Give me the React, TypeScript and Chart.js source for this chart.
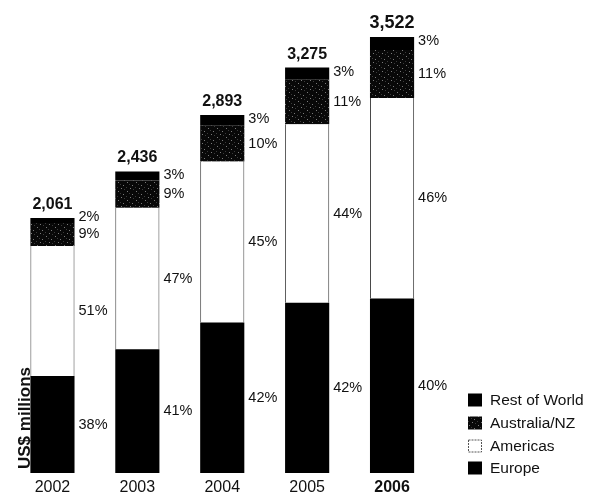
import { useEffect, useRef } from "react";
import { Chart, registerables } from "chart.js";

Chart.register(...registerables);

const years = ["2002", "2003", "2004", "2005", "2006"];
const totals = [2061, 2436, 2893, 3275, 3522];
const totalLabels = ["2,061", "2,436", "2,893", "3,275", "3,522"];
const europePct = [38, 41, 42, 42, 40];
const americasPct = [51, 47, 45, 44, 46];
const ausNzPct = [9, 9, 10, 11, 11];
const restPct = [2, 3, 3, 3, 3];
const seriesNames = ["Europe", "Americas", "Australia/NZ", "Rest of World"];

const FONT = "'Liberation Sans', Arial, Helvetica, sans-serif";

function makePattern(): CanvasPattern | string {
  const c = document.createElement("canvas");
  c.width = 9;
  c.height = 9;
  const g = c.getContext("2d");
  if (!g) return "#111";
  g.fillStyle = "#080808";
  g.fillRect(0, 0, 9, 9);
  g.fillStyle = "#7a7a7a";
  const dots = [[1, 2], [6, 5], [4, 8]];
  for (const [x, y] of dots) g.fillRect(x, y, 1, 1);
  g.fillStyle = "#3a3a3a";
  const dots2 = [[7, 0], [3, 4], [0, 7]];
  for (const [x, y] of dots2) g.fillRect(x, y, 1, 1);
  const p = g.createPattern(c, "repeat");
  return p || "#111";
}

export default function App() {
  const ref = useRef<HTMLCanvasElement | null>(null);

  useEffect(() => {
    document.body.style.margin = "0";
    document.body.style.background = "#fff";
    const canvas = ref.current;
    if (!canvas) return;
    const pattern = makePattern();
    const vals = (pct: number[]) => totals.map((t, i) => (t * pct[i]) / 100);

    const labelPlugin = {
      id: "labels",
      afterDatasetsDraw(chart: any) {
        const ctx = chart.ctx as CanvasRenderingContext2D;
        const metas = [0, 1, 2, 3].map((d) => chart.getDatasetMeta(d));
        const pcts = [europePct, americasPct, ausNzPct, restPct];
        ctx.save();
        ctx.fillStyle = "#111";
        for (let i = 0; i < years.length; i++) {
          const els = metas.map((m: any) => m.data[i]);
          const xRight = els[0].x + els[0].width / 2 + 4;
          const centers = els.map((e: any) => (e.y + e.base) / 2);
          const ys = [...centers];
          const top = els[3].y;
          ys[3] = Math.min(centers[3], top + 4, ys[2] - 17);
          ctx.font = `14.5px ${FONT}`;
          ctx.textAlign = "left";
          ctx.textBaseline = "middle";
          for (let d = 0; d < 4; d++) {
            ctx.fillText(`${pcts[d][i]}%`, xRight, ys[d]);
          }
          ctx.font = `bold ${i === 4 ? 18 : 16}px ${FONT}`;
          ctx.textAlign = "center";
          ctx.textBaseline = "alphabetic";
          ctx.fillText(totalLabels[i], els[3].x, top - 9);
        }
        // y axis title
        ctx.save();
        ctx.translate(30, 469);
        ctx.rotate(-Math.PI / 2);
        ctx.font = `bold 17px ${FONT}`;
        ctx.textAlign = "left";
        ctx.textBaseline = "alphabetic";
        ctx.fillStyle = "#111";
        ctx.fillText("US$ millions", 0, 0);
        ctx.restore();
        // legend
        const rows = [
          { name: seriesNames[3], y: 400, fill: "#000", stroke: null as string | null },
          { name: seriesNames[2], y: 423, fill: pattern, stroke: null },
          { name: seriesNames[1], y: 446, fill: "#fff", stroke: "#555" },
          { name: seriesNames[0], y: 468, fill: "#000", stroke: null },
        ];
        ctx.font = `15.5px ${FONT}`;
        ctx.textAlign = "left";
        ctx.textBaseline = "middle";
        for (const r of rows) {
          ctx.fillStyle = r.fill as any;
          ctx.fillRect(468, r.y - 6.5, 14, 13);
          if (r.stroke) {
            ctx.strokeStyle = r.stroke;
            ctx.lineWidth = 1;
            ctx.setLineDash([2, 1]);
            ctx.strokeRect(468.5, r.y - 6, 13, 12);
            ctx.setLineDash([]);
          }
          ctx.fillStyle = "#111";
          ctx.fillText(r.name, 490, r.y + 1);
        }
        ctx.restore();
      },
    };

    const chart = new Chart(canvas, {
      type: "bar",
      data: {
        labels: years,
        datasets: [
          {
            label: seriesNames[0],
            data: vals(europePct),
            backgroundColor: "#000",
            borderWidth: 0,
          },
          {
            label: seriesNames[1],
            data: vals(americasPct),
            backgroundColor: "#fff",
            borderColor: "#444",
            borderWidth: { left: 1, right: 1, top: 0, bottom: 0 },
            borderSkipped: false,
          },
          {
            label: seriesNames[2],
            data: vals(ausNzPct),
            backgroundColor: pattern as any,
            borderWidth: 0,
          },
          {
            label: seriesNames[3],
            data: vals(restPct),
            backgroundColor: "#000",
            borderWidth: 0,
          },
        ],
      },
      options: {
        animation: false,
        responsive: true,
        maintainAspectRatio: false,
        layout: { padding: { top: 15, left: 10, right: 154.5, bottom: 0 } },
        datasets: { bar: { barPercentage: 0.52, categoryPercentage: 1 } },
        plugins: {
          legend: { display: false },
          tooltip: { enabled: false },
          title: { display: false },
        },
        scales: {
          x: {
            stacked: true,
            border: { display: false },
            grid: {
              display: true,
              color: "rgba(0,0,0,0)",
              drawOnChartArea: false,
              drawTicks: true,
              tickLength: 5,
            },
            ticks: {
              padding: 2,
              color: "#111",
              font: (c: any) => ({
                family: FONT,
                size: 16,
                lineHeight: 1,
                weight: c.index === 4 ? "bold" : "normal",
              }),
            },
          },
          y: {
            stacked: true,
            display: false,
            min: 0,
            max: 3700,
          },
        },
      },
      plugins: [labelPlugin],
    });
    return () => chart.destroy();
  }, []);

  return (
    <div style={{ width: 589, height: 498, position: "relative", background: "#fff" }}>
      <canvas ref={ref} />
    </div>
  );
}
